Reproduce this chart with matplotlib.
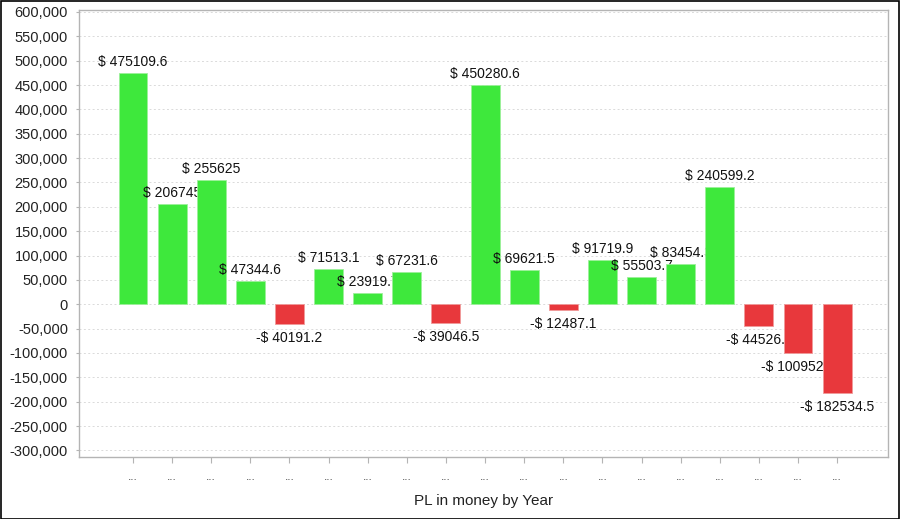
import numpy as np
import matplotlib
matplotlib.use("Agg")
import matplotlib.pyplot as plt
from matplotlib.ticker import FuncFormatter, MultipleLocator
from matplotlib.patches import Rectangle

plt.rcParams['font.family'] = ['Liberation Sans', 'DejaVu Sans']

# PL per year (year labels are shown truncated as "...")
values = [475109.6, 206745, 255625, 47344.6, -40191.2, 71513.1, 23919.7,
          67231.6, -39046.5, 450280.6, 69621.5, -12487.1, 91719.9, 55503.7,
          83454.3, 240599.2, -44526.4, -100952.8, -182534.5]
tick_labels = ["..."] * len(values)

green = "#3ee83c"
red = "#e8383c"

fig = plt.figure(figsize=(9, 5.19), dpi=100)
ax = fig.add_axes([79 / 900, 1 - 457 / 519, (888 - 79) / 900, (457 - 10) / 519])

x = np.arange(len(values))
for i, v in enumerate(values):
    c = green if v >= 0 else red
    ax.bar(x[i], v, width=0.74, color=c, edgecolor="#9cf09a" if v >= 0 else "#f09a9a",
           linewidth=0.6, zorder=10 + 2 * i)
    s = repr(float(abs(v)))
    if s.endswith(".0"):
        s = s[:-2]
    if v >= 0:
        ax.annotate("$ " + s, (x[i], v), xytext=(0, 4), textcoords="offset pixels",
                    ha="center", va="bottom", fontsize=10, color="#111111",
                    zorder=11 + 2 * i)
    else:
        ax.annotate("-$ " + s, (x[i], v), xytext=(0, -7), textcoords="offset pixels",
                    ha="center", va="top", fontsize=10, color="#111111",
                    zorder=11 + 2 * i)

ax.set_xlim(-1.38, len(values) - 1 + 1.3)
ax.set_ylim(-313500, 604100)
ax.yaxis.set_major_locator(MultipleLocator(50000))
ax.yaxis.set_major_formatter(FuncFormatter(lambda v, p: f"{int(v):,}"))
ax.set_xticks(x)
ax.set_xticklabels(tick_labels, fontsize=8.5, color="#444444")

ax.grid(axis="y", color="#dadada", linestyle=(0, (2, 2.5)), linewidth=0.7, zorder=0)
ax.set_axisbelow(True)
for sp in ax.spines.values():
    sp.set_color("#b4b4b4")
    sp.set_linewidth(1.0)

ax.tick_params(axis="y", length=2, width=0.8, color="#b4b4b4", pad=6,
               labelsize=10.5, labelcolor="#222222")
ax.tick_params(axis="x", length=4, width=0.8, color="#b4b4b4", pad=6)
ax.set_xlabel("PL in money by Year", fontsize=11, color="#222222", labelpad=8)

fig.patches.append(Rectangle((0.5 / 900, 0.5 / 519), 1 - 1.5 / 900, 1 - 1.5 / 519,
                             transform=fig.transFigure, fill=False,
                             edgecolor="black", linewidth=1.2))

fig.savefig("out.png", dpi=100)
